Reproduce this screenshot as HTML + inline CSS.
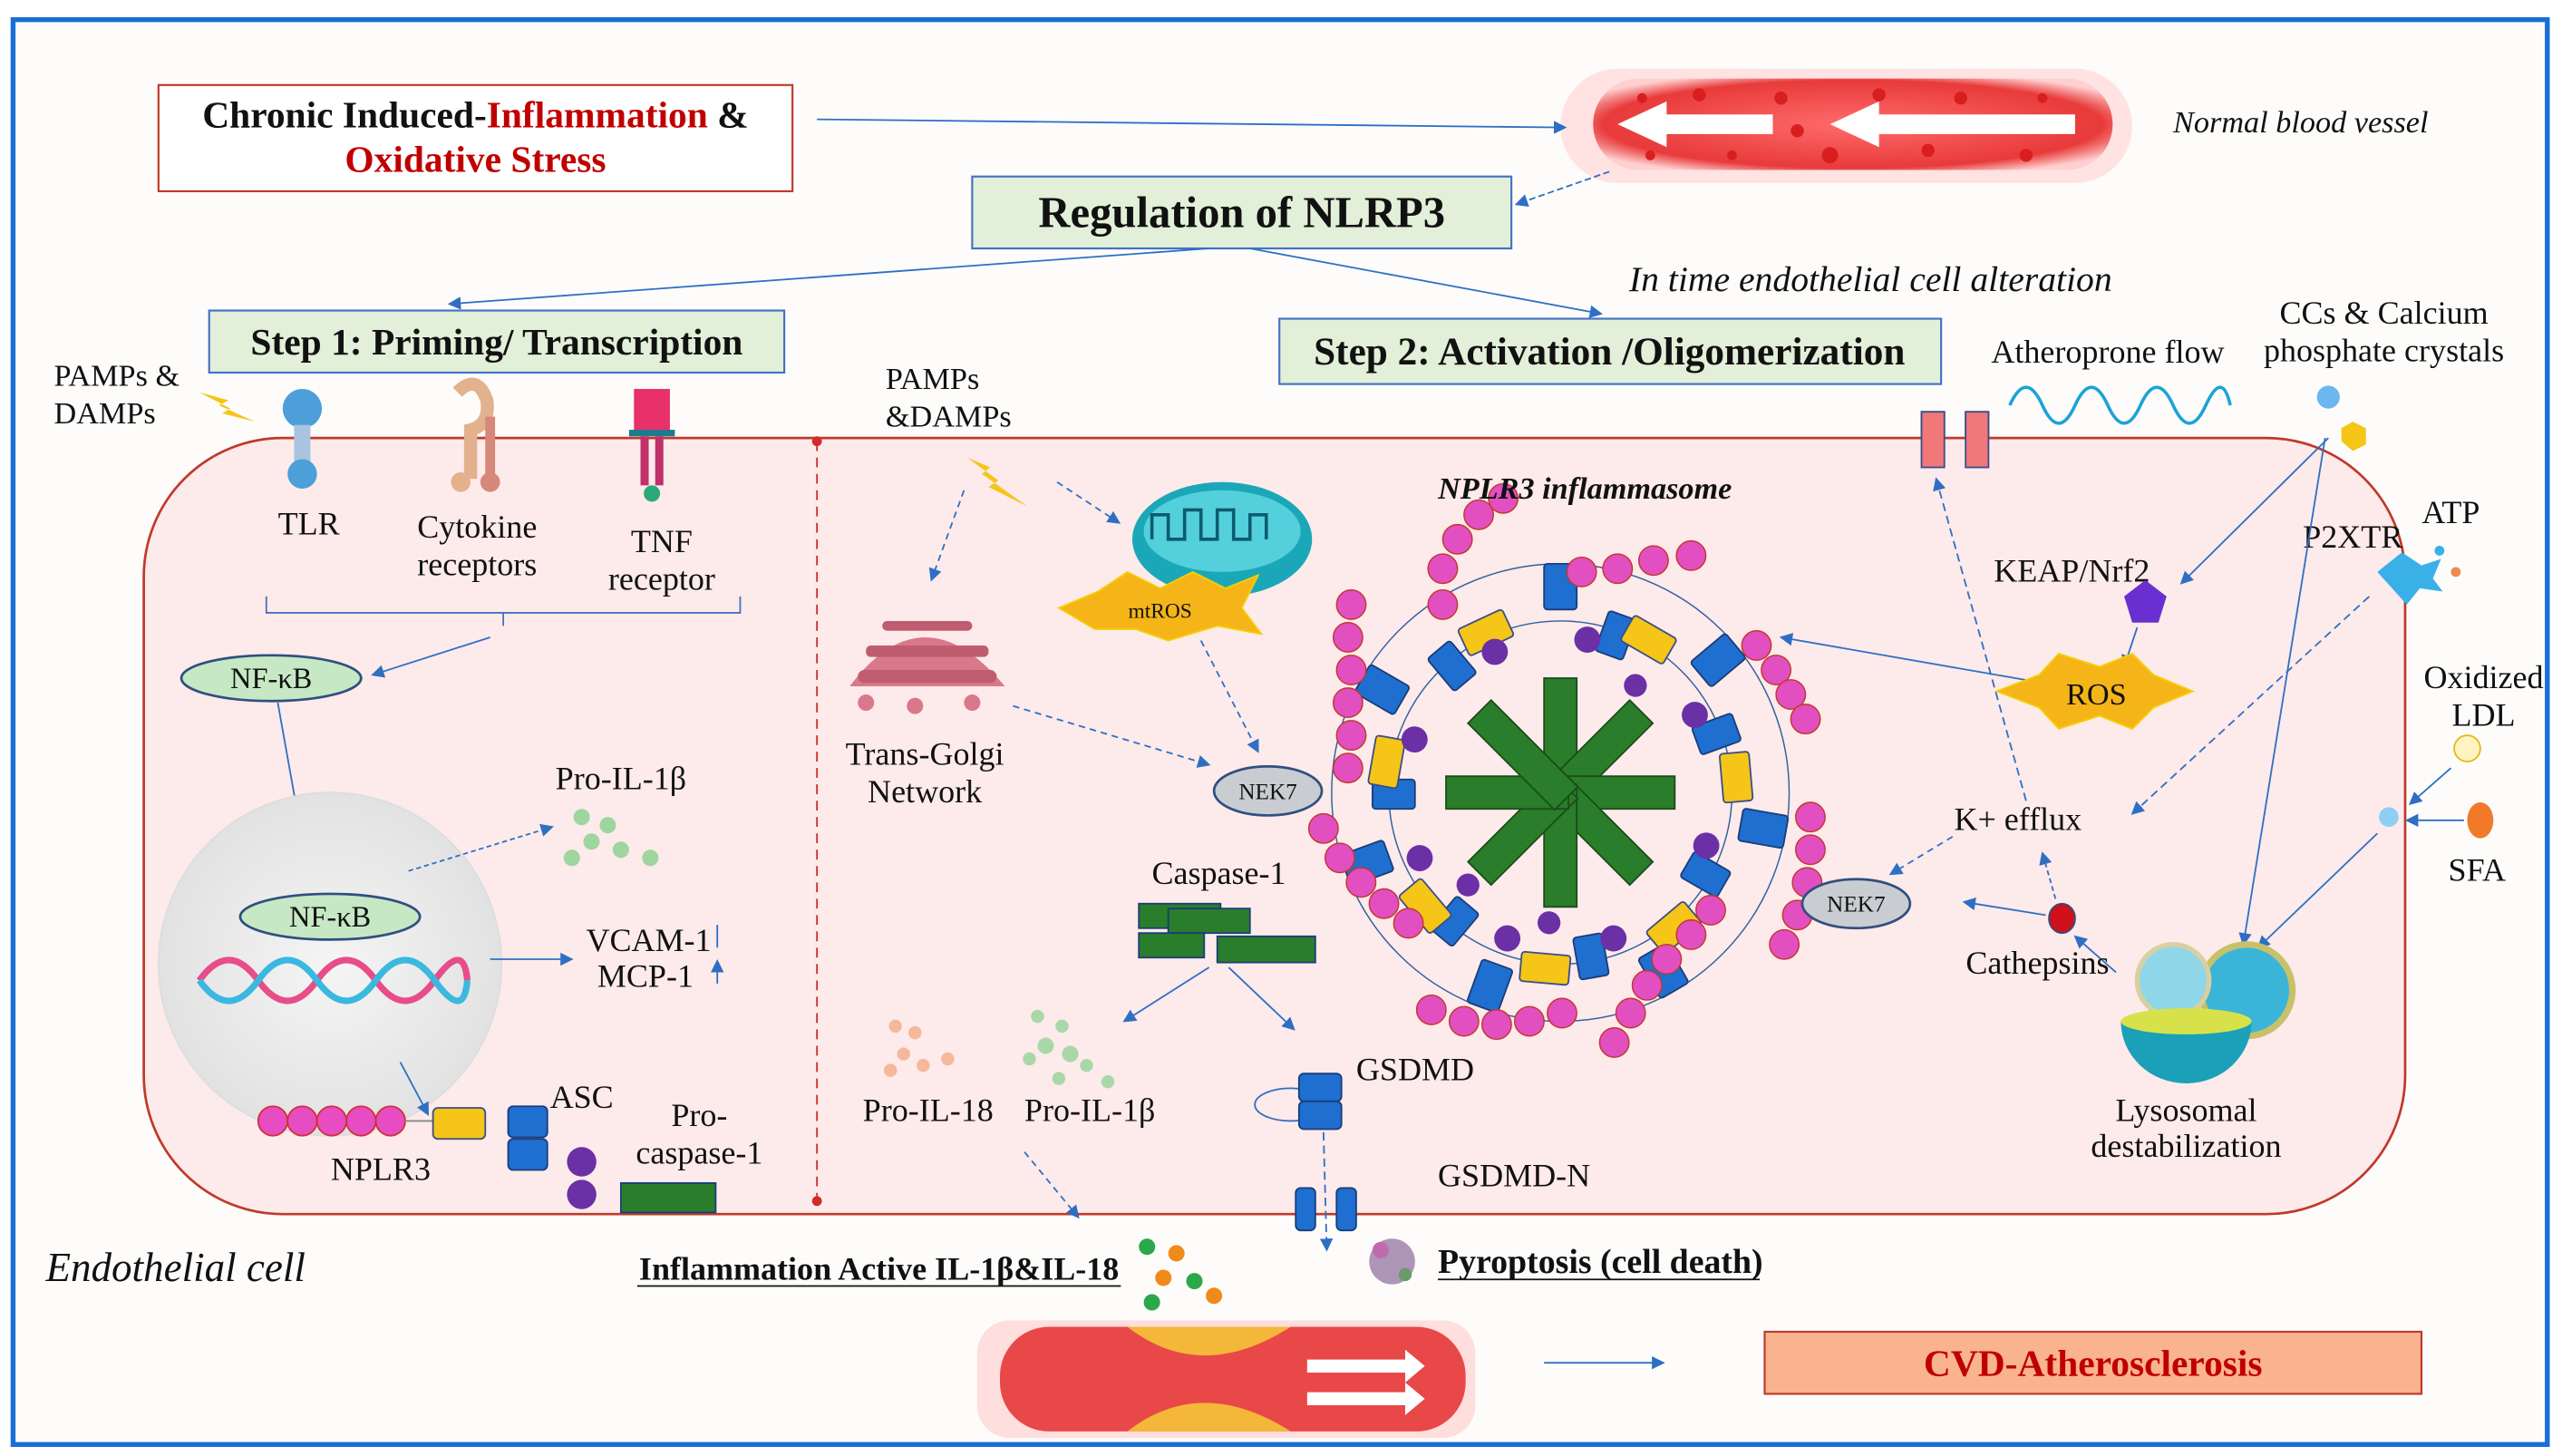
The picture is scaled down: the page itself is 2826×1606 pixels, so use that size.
<!DOCTYPE html>
<html><head><meta charset="utf-8"><style>
html,body{margin:0;padding:0;background:#fff}
svg{display:block}
text{font-family:"Liberation Serif",serif;fill:#111}
</style></head><body>
<svg width="2826" height="1606" viewBox="0 0 1568 891" xmlns="http://www.w3.org/2000/svg">
<defs>
<marker id="a" markerWidth="8" markerHeight="8" refX="7" refY="4" orient="auto" markerUnits="userSpaceOnUse"><path d="M0,0 L8,4 L0,8 z" fill="#2e6fc4"/></marker>
<radialGradient id="ves" cx="50%" cy="50%" r="60%"><stop offset="0" stop-color="#ff6b6b"/><stop offset="0.8" stop-color="#e83a3a"/><stop offset="1" stop-color="#ffd0d0"/></radialGradient>
<radialGradient id="nuc" cx="50%" cy="50%" r="50%"><stop offset="0" stop-color="#f5f5f5"/><stop offset="1" stop-color="#e2e2e2"/></radialGradient>
</defs>
<rect x="0" y="0" width="1568" height="891" fill="#fff"/>
<rect x="8" y="12" width="1551" height="872" fill="#fdfcfa" stroke="#1a6fd6" stroke-width="3"/>

<!-- top -->
<rect x="97" y="52" width="388" height="65" fill="#fff" stroke="#c0392b" stroke-width="1.2"/>
<text x="291" y="78" font-size="23" font-weight="bold" text-anchor="middle">Chronic Induced-<tspan style="fill:#c00000">Inflammation</tspan> &amp;</text>
<text x="291" y="105" font-size="23" font-weight="bold" text-anchor="middle" style="fill:#c00000">Oxidative Stress</text>

<rect x="955" y="42" width="350" height="70" rx="35" fill="#ffe3e3"/>
<rect x="975" y="48" width="318" height="56" rx="28" fill="url(#ves)"/>
<path d="M990,76 L1020,62 L1020,70 L1085,70 L1085,82 L1020,82 L1020,90 z M1120,76 L1150,62 L1150,70 L1270,70 L1270,82 L1150,82 L1150,90 z" fill="#fff"/>
<g fill="#d81e1e"><circle cx="1005" cy="60" r="3"/><circle cx="1040" cy="58" r="4"/><circle cx="1090" cy="60" r="4"/><circle cx="1150" cy="58" r="4"/><circle cx="1200" cy="60" r="4"/><circle cx="1250" cy="60" r="3"/><circle cx="1010" cy="95" r="3"/><circle cx="1060" cy="95" r="3"/><circle cx="1120" cy="95" r="5"/><circle cx="1180" cy="92" r="4"/><circle cx="1240" cy="95" r="4"/><circle cx="1100" cy="80" r="4"/></g>
<line x1="500" y1="73" x2="958" y2="78" stroke="#2e6fc4" marker-end="url(#a)"/>
<text x="1330" y="81" font-size="19" font-style="italic">Normal blood vessel</text>

<line x1="985" y1="105" x2="928" y2="125" stroke="#2e6fc4" stroke-dasharray="4,2" marker-end="url(#a)"/>
<rect x="595" y="108" width="330" height="44" fill="#e2efd9" stroke="#4472c4" stroke-width="1.2"/>
<text x="760" y="139" font-size="27" font-weight="bold" text-anchor="middle">Regulation of NLRP3</text>
<line x1="740" y1="152" x2="275" y2="186" stroke="#2e6fc4" marker-end="url(#a)"/>
<line x1="765" y1="152" x2="980" y2="192" stroke="#2e6fc4" marker-end="url(#a)"/>
<text x="997" y="178" font-size="22" font-style="italic">In time endothelial cell alteration</text>

<rect x="128" y="190" width="352" height="38" fill="#e2efd9" stroke="#4472c4" stroke-width="1.2"/>
<text x="304" y="217" font-size="23" font-weight="bold" text-anchor="middle">Step 1: Priming/ Transcription</text>
<rect x="783" y="195" width="405" height="40" fill="#e2efd9" stroke="#4472c4" stroke-width="1.2"/>
<text x="985" y="223" font-size="24" font-weight="bold" text-anchor="middle">Step 2: Activation /Oligomerization</text>

<text x="33" y="236" font-size="19">PAMPs &amp;</text>
<text x="33" y="259" font-size="19">DAMPs</text>
<text x="542" y="238" font-size="19">PAMPs</text>
<text x="542" y="261" font-size="19">&amp;DAMPs</text>
<text x="1290" y="222" font-size="20" text-anchor="middle">Atheroprone flow</text>
<text x="1459" y="198" font-size="20" text-anchor="middle">CCs &amp; Calcium</text>
<text x="1459" y="221" font-size="20" text-anchor="middle">phosphate crystals</text>
<path d="M1230,248 q10,-22 20,0 t20,0 t20,0 t20,0 t20,0 t20,0 t15,0" fill="none" stroke="#1ca3d6" stroke-width="2"/>
<rect x="1176" y="252" width="14" height="34" fill="#f07878" stroke="#3a4d8a"/><rect x="1203" y="252" width="14" height="34" fill="#f07878" stroke="#3a4d8a"/>
<circle cx="1425" cy="243" r="7" fill="#6bb7f0"/><polygon points="1440,258 1448,262 1448,272 1440,276 1433,270 1433,262" fill="#f5c518"/>

<!-- cell -->
<rect x="88" y="268" width="1384" height="475" rx="85" fill="#fdeaea" stroke="#c0392b" stroke-width="1.5"/>
<line x1="500" y1="270" x2="500" y2="735" stroke="#d42a2a" stroke-dasharray="6,4"/>
<circle cx="500" cy="270" r="3" fill="#d42a2a"/><circle cx="500" cy="735" r="3" fill="#d42a2a"/>
<rect x="1176" y="252" width="14" height="34" fill="#f07878" stroke="#3a4d8a"/><rect x="1203" y="252" width="14" height="34" fill="#f07878" stroke="#3a4d8a"/>

<path d="M122,240 l18,5 l-6,3 l22,10 l-20,-5 l5,-3 z" fill="#f5c518"/>
<path d="M592,280 l14,6 l-5,4 l28,20 l-24,-12 l6,-4 z" fill="#f5c518"/>
<g><circle cx="185" cy="250" r="12" fill="#4c9fd8"/><rect x="180" y="260" width="10" height="26" fill="#a9c4e0"/><circle cx="185" cy="290" r="9" fill="#4c9fd8"/></g>
<g><path d="M280,240 q12,-12 18,5 q2,15 -10,18 l0,30" fill="none" stroke="#e3b18e" stroke-width="8"/><circle cx="282" cy="295" r="6" fill="#e3b18e"/><circle cx="300" cy="295" r="6" fill="#d6887a"/><rect x="297" y="255" width="6" height="35" fill="#d6887a"/></g>
<g><rect x="388" y="238" width="22" height="28" fill="#e8306a"/><rect x="385" y="263" width="28" height="4" fill="#1d7c8c"/><rect x="392" y="267" width="5" height="30" fill="#c0306a"/><rect x="401" y="267" width="5" height="30" fill="#c0306a"/><circle cx="399" cy="302" r="5" fill="#2da87a"/></g>
<text x="189" y="327" font-size="20" text-anchor="middle">TLR</text>
<text x="292" y="329" font-size="20" text-anchor="middle">Cytokine</text>
<text x="292" y="352" font-size="20" text-anchor="middle">receptors</text>
<text x="405" y="338" font-size="20" text-anchor="middle">TNF</text>
<text x="405" y="361" font-size="20" text-anchor="middle">receptor</text>
<path d="M163,365 v10 h290 v-10 M308,375 v8" fill="none" stroke="#4472c4"/>
<line x1="300" y1="390" x2="228" y2="413" stroke="#2e6fc4" marker-end="url(#a)"/>
<ellipse cx="166" cy="415" rx="55" ry="14" fill="#c6e8c4" stroke="#2f4f7f" stroke-width="1.5"/>
<text x="166" y="421" font-size="18" text-anchor="middle">NF-κB</text>
<line x1="170" y1="430" x2="187" y2="525" stroke="#2e6fc4" marker-end="url(#a)"/>
<circle cx="202" cy="590" r="105" fill="url(#nuc)" stroke="#ddd"/>
<ellipse cx="202" cy="561" rx="55" ry="14" fill="#c6e8c4" stroke="#2f4f7f" stroke-width="1.5"/>
<text x="202" y="567" font-size="18" text-anchor="middle">NF-κB</text>
<path d="M122,600 q18,-25 36,0 t36,0 t36,0 t36,0 t20,0" fill="none" stroke="#e84c8a" stroke-width="4"/>
<path d="M122,600 q18,25 36,0 t36,0 t36,0 t36,0 t20,0" fill="none" stroke="#3ab8e0" stroke-width="4"/>
<line x1="250" y1="533" x2="338" y2="506" stroke="#2e6fc4" stroke-dasharray="3,2" marker-end="url(#a)"/>
<text x="380" y="483" font-size="20" text-anchor="middle">Pro-IL-1β</text>
<g fill="#9fd59f"><circle cx="356" cy="500" r="5"/><circle cx="372" cy="505" r="5"/><circle cx="362" cy="515" r="5"/><circle cx="380" cy="520" r="5"/><circle cx="350" cy="525" r="5"/><circle cx="398" cy="525" r="5"/></g>
<line x1="300" y1="587" x2="350" y2="587" stroke="#2e6fc4" marker-end="url(#a)"/>
<text x="397" y="582" font-size="20" text-anchor="middle">VCAM-1</text>
<text x="395" y="604" font-size="20" text-anchor="middle">MCP-1</text>
<path d="M439,580 v-14 M439,602 v-14" stroke="#2e6fc4" marker-end="url(#a)"/>
<line x1="245" y1="650" x2="262" y2="682" stroke="#2e6fc4" marker-end="url(#a)"/>
<g fill="#e84cc2" stroke="#c33"><circle cx="167" cy="686" r="9"/><circle cx="185" cy="686" r="9"/><circle cx="203" cy="686" r="9"/><circle cx="221" cy="686" r="9"/><circle cx="239" cy="686" r="9"/></g>
<line x1="248" y1="686" x2="265" y2="686" stroke="#888"/>
<rect x="265" y="678" width="32" height="19" rx="3" fill="#f5c518" stroke="#3a4d8a"/>
<rect x="311" y="677" width="24" height="19" rx="3" fill="#1e6fd0" stroke="#1a3d7a"/><rect x="311" y="697" width="24" height="19" rx="3" fill="#1e6fd0" stroke="#1a3d7a"/>
<circle cx="356" cy="711" r="9" fill="#6b2fa6"/><circle cx="356" cy="731" r="9" fill="#6b2fa6"/>
<rect x="380" y="724" width="58" height="18" fill="#2a7d2a" stroke="#1a3d7a"/>
<text x="356" y="678" font-size="20" text-anchor="middle">ASC</text>
<text x="428" y="689" font-size="20" text-anchor="middle">Pro-</text>
<text x="428" y="712" font-size="20" text-anchor="middle">caspase-1</text>
<text x="233" y="722" font-size="20" text-anchor="middle">NPLR3</text>

<!-- step2 internal -->
<line x1="590" y1="300" x2="570" y2="355" stroke="#2e6fc4" stroke-dasharray="4,3" marker-end="url(#a)"/>
<line x1="647" y1="295" x2="685" y2="320" stroke="#2e6fc4" stroke-dasharray="4,3" marker-end="url(#a)"/>
<ellipse cx="748" cy="330" rx="55" ry="35" fill="#1aa8b8"/><ellipse cx="748" cy="325" rx="48" ry="25" fill="#54d0dc"/>
<path d="M705,330 v-15 h10 v15 h10 v-18 h10 v18 h10 v-18 h10 v18 h10 v-15 h10 v15" fill="none" stroke="#0c5c6e" stroke-width="2"/>
<polygon points="648,372 672,362 690,350 710,360 730,350 750,360 770,352 760,372 772,388 745,383 715,392 695,385 670,385" fill="#f5b518" stroke="#f5d000"/>
<text x="710" y="378" font-size="13" text-anchor="middle">mtROS</text>
<g fill="#d9788a"><path d="M520,420 q45,-60 95,0 z" /><rect x="525" y="410" width="85" height="8" rx="4" fill="#c05c70"/><rect x="530" y="395" width="75" height="7" rx="3" fill="#c05c70"/><rect x="540" y="380" width="55" height="6" rx="3" fill="#c05c70"/><circle cx="530" cy="430" r="5"/><circle cx="560" cy="432" r="5"/><circle cx="595" cy="430" r="5"/></g>
<text x="566" y="468" font-size="20" text-anchor="middle">Trans-Golgi</text>
<text x="566" y="491" font-size="20" text-anchor="middle">Network</text>
<line x1="620" y1="432" x2="740" y2="468" stroke="#2e6fc4" stroke-dasharray="4,3" marker-end="url(#a)"/>
<line x1="735" y1="392" x2="770" y2="460" stroke="#2e6fc4" stroke-dasharray="4,3" marker-end="url(#a)"/>
<ellipse cx="776" cy="484" rx="33" ry="15" fill="#c9cdd2" stroke="#2f4f7f" stroke-width="1.5"/>
<text x="776" y="489" font-size="14" text-anchor="middle">NEK7</text>
<text x="746" y="541" font-size="20" text-anchor="middle">Caspase-1</text>
<rect x="697" y="553" width="50" height="15" fill="#2a7d2a" stroke="#1a3d7a"/><rect x="715" y="556" width="50" height="15" fill="#2a7d2a" stroke="#1a3d7a"/><rect x="697" y="571" width="40" height="15" fill="#2a7d2a" stroke="#1a3d7a"/><rect x="745" y="573" width="60" height="16" fill="#2a7d2a" stroke="#1a3d7a"/>
<line x1="740" y1="592" x2="688" y2="625" stroke="#2e6fc4" marker-end="url(#a)"/>
<line x1="752" y1="592" x2="792" y2="630" stroke="#2e6fc4" marker-end="url(#a)"/>
<g fill="#f5b89a"><circle cx="548" cy="628" r="4"/><circle cx="560" cy="632" r="4"/><circle cx="553" cy="645" r="4"/><circle cx="565" cy="652" r="4"/><circle cx="545" cy="655" r="4"/><circle cx="580" cy="648" r="4"/></g>
<g fill="#a8d8a8"><circle cx="635" cy="622" r="4"/><circle cx="650" cy="628" r="4"/><circle cx="640" cy="640" r="5"/><circle cx="655" cy="645" r="5"/><circle cx="630" cy="648" r="4"/><circle cx="665" cy="652" r="4"/><circle cx="648" cy="660" r="4"/><circle cx="678" cy="662" r="4"/></g>
<text x="568" y="686" font-size="20" text-anchor="middle">Pro-IL-18</text>
<text x="667" y="686" font-size="20" text-anchor="middle">Pro-IL-1β</text>
<ellipse cx="790" cy="676" rx="22" ry="10" fill="none" stroke="#2e6fc4"/>
<rect x="795" y="657" width="26" height="17" rx="3" fill="#1e6fd0" stroke="#1a3d7a"/><rect x="795" y="674" width="26" height="17" rx="3" fill="#1e6fd0" stroke="#1a3d7a"/>
<text x="830" y="661" font-size="20">GSDMD</text>
<text x="880" y="726" font-size="20">GSDMD-N</text>
<line x1="810" y1="693" x2="812" y2="765" stroke="#2e6fc4" stroke-dasharray="5,3" marker-end="url(#a)"/>
<rect x="793" y="727" width="12" height="26" rx="3" fill="#1e6fd0" stroke="#1a3d7a"/><rect x="818" y="727" width="12" height="26" rx="3" fill="#1e6fd0" stroke="#1a3d7a"/>
<line x1="627" y1="705" x2="660" y2="745" stroke="#2e6fc4" stroke-dasharray="4,3" marker-end="url(#a)"/>

<!-- inflammasome -->
<g stroke="#2f5fa0" stroke-width="0.8" fill="none"><circle cx="955" cy="485" r="105"/><circle cx="955" cy="485" r="140"/></g>
<g fill="#2a7d2a" stroke="#1a4d1a">
<rect x="945" y="415" width="20" height="75" transform="rotate(0 955 485)"/>
<rect x="945" y="415" width="20" height="75" transform="rotate(45 955 485)"/>
<rect x="945" y="415" width="20" height="75" transform="rotate(90 955 485)"/>
<rect x="945" y="415" width="20" height="75" transform="rotate(135 955 485)"/>
<rect x="945" y="415" width="20" height="75" transform="rotate(180 955 485)"/>
<rect x="945" y="415" width="20" height="75" transform="rotate(225 955 485)"/>
<rect x="945" y="415" width="20" height="75" transform="rotate(270 955 485)"/>
<rect x="945" y="415" width="20" height="75" transform="rotate(315 955 485)"/>
</g>
<g fill="#1e6fd0" stroke="#1a3d7a">
<rect x="945" y="370" width="18" height="26" rx="2" transform="rotate(20 955 485)"/>
<rect x="945" y="370" width="18" height="26" rx="2" transform="rotate(70 955 485)"/>
<rect x="945" y="370" width="18" height="26" rx="2" transform="rotate(120 955 485)"/>
<rect x="945" y="370" width="18" height="26" rx="2" transform="rotate(170 955 485)"/>
<rect x="945" y="370" width="18" height="26" rx="2" transform="rotate(220 955 485)"/>
<rect x="945" y="370" width="18" height="26" rx="2" transform="rotate(270 955 485)"/>
<rect x="945" y="370" width="18" height="26" rx="2" transform="rotate(320 955 485)"/>
<rect x="945" y="345" width="20" height="28" rx="2" transform="rotate(0 955 485)"/>
<rect x="945" y="345" width="20" height="28" rx="2" transform="rotate(50 955 485)"/>
<rect x="945" y="345" width="20" height="28" rx="2" transform="rotate(100 955 485)"/>
<rect x="945" y="345" width="20" height="28" rx="2" transform="rotate(150 955 485)"/>
<rect x="945" y="345" width="20" height="28" rx="2" transform="rotate(200 955 485)"/>
<rect x="945" y="345" width="20" height="28" rx="2" transform="rotate(250 955 485)"/>
<rect x="945" y="345" width="20" height="28" rx="2" transform="rotate(300 955 485)"/>
</g>
<g fill="#f5c518" stroke="#3a4d8a">
<rect x="940" y="368" width="30" height="18" rx="2" transform="rotate(-25 955 485)"/>
<rect x="940" y="368" width="30" height="18" rx="2" transform="rotate(30 955 485)"/>
<rect x="940" y="368" width="30" height="18" rx="2" transform="rotate(85 955 485)"/>
<rect x="940" y="368" width="30" height="18" rx="2" transform="rotate(140 955 485)"/>
<rect x="940" y="368" width="30" height="18" rx="2" transform="rotate(185 955 485)"/>
<rect x="940" y="368" width="30" height="18" rx="2" transform="rotate(230 955 485)"/>
<rect x="940" y="368" width="30" height="18" rx="2" transform="rotate(-80 955 485)"/>
</g>
<g fill="#6b2fa6">
<circle cx="955" cy="390" r="8" transform="rotate(10 955 485)"/><circle cx="955" cy="390" r="8" transform="rotate(60 955 485)"/><circle cx="955" cy="390" r="8" transform="rotate(110 955 485)"/><circle cx="955" cy="390" r="8" transform="rotate(160 955 485)"/><circle cx="955" cy="390" r="8" transform="rotate(200 955 485)"/><circle cx="955" cy="390" r="8" transform="rotate(245 955 485)"/><circle cx="955" cy="390" r="8" transform="rotate(290 955 485)"/><circle cx="955" cy="390" r="8" transform="rotate(335 955 485)"/>
<circle cx="955" cy="405" r="7" transform="rotate(35 955 485)"/><circle cx="955" cy="405" r="7" transform="rotate(185 955 485)"/><circle cx="955" cy="405" r="7" transform="rotate(225 955 485)"/>
</g>
<g fill="#e24fc0" stroke="#c0392b" stroke-width="0.8">
<circle cx="968" cy="350" r="9"/><circle cx="990" cy="348" r="9"/><circle cx="1012" cy="343" r="9"/><circle cx="1035" cy="340" r="9"/>
<circle cx="883" cy="370" r="9"/><circle cx="883" cy="348" r="9"/><circle cx="892" cy="330" r="9"/><circle cx="905" cy="315" r="9"/><circle cx="920" cy="305" r="9"/>
<circle cx="827" cy="370" r="9"/><circle cx="825" cy="390" r="9"/><circle cx="827" cy="410" r="9"/><circle cx="825" cy="430" r="9"/><circle cx="827" cy="450" r="9"/><circle cx="825" cy="470" r="9"/>
<circle cx="810" cy="507" r="9"/><circle cx="820" cy="525" r="9"/><circle cx="833" cy="540" r="9"/><circle cx="847" cy="553" r="9"/><circle cx="862" cy="565" r="9"/>
<circle cx="876" cy="618" r="9"/><circle cx="896" cy="625" r="9"/><circle cx="916" cy="627" r="9"/><circle cx="936" cy="625" r="9"/><circle cx="956" cy="620" r="9"/>
<circle cx="988" cy="638" r="9"/><circle cx="998" cy="620" r="9"/><circle cx="1008" cy="603" r="9"/><circle cx="1020" cy="587" r="9"/><circle cx="1035" cy="572" r="9"/><circle cx="1047" cy="557" r="9"/>
<circle cx="1075" cy="395" r="9"/><circle cx="1087" cy="410" r="9"/><circle cx="1096" cy="425" r="9"/><circle cx="1105" cy="440" r="9"/><circle cx="1108" cy="500" r="9"/><circle cx="1108" cy="520" r="9"/><circle cx="1106" cy="540" r="9"/><circle cx="1100" cy="560" r="9"/><circle cx="1092" cy="578" r="9"/>
</g>
<text x="970" y="305" font-size="19" font-style="italic" font-weight="bold" text-anchor="middle">NPLR3 inflammasome</text>

<!-- right side -->
<line x1="1245" y1="417" x2="1090" y2="390" stroke="#2e6fc4" marker-end="url(#a)"/>
<text x="1268" y="356" font-size="20" text-anchor="middle">KEAP/Nrf2</text>
<polygon points="1313,355 1326,365 1321,381 1305,381 1300,365" fill="#6a2fd0"/>
<line x1="1308" y1="384" x2="1300" y2="408" stroke="#2e6fc4" marker-end="url(#a)"/>
<line x1="1425" y1="268" x2="1335" y2="357" stroke="#2e6fc4" marker-end="url(#a)"/>
<polygon points="1222,423 1248,413 1260,400 1285,408 1305,400 1318,413 1342,423 1318,433 1305,446 1285,438 1260,446 1248,433" fill="#f5b518" stroke="#f5d000"/>
<text x="1283" y="431" font-size="19" text-anchor="middle">ROS</text>
<text x="1440" y="335" font-size="20" text-anchor="middle">P2XTR</text>
<text x="1500" y="320" font-size="20" text-anchor="middle">ATP</text>
<path d="M1455,350 l15,-12 l12,8 l12,-4 l-5,12 l6,8 l-14,-2 l-8,10 z" fill="#3ab0e8"/>
<circle cx="1493" cy="337" r="3" fill="#3ab0e8"/><circle cx="1503" cy="350" r="3" fill="#f08a4a"/>
<text x="1520" y="421" font-size="20" text-anchor="middle">Oxidized</text>
<text x="1520" y="444" font-size="20" text-anchor="middle">LDL</text>
<circle cx="1510" cy="458" r="8" fill="#fff3c0" stroke="#e5b818"/>
<line x1="1500" y1="470" x2="1475" y2="492" stroke="#2e6fc4" marker-end="url(#a)"/>
<circle cx="1462" cy="500" r="6" fill="#8ecff5"/>
<ellipse cx="1518" cy="502" rx="8" ry="11" fill="#f07a2a"/>
<line x1="1508" y1="502" x2="1473" y2="502" stroke="#2e6fc4" marker-end="url(#a)"/>
<text x="1516" y="539" font-size="20" text-anchor="middle">SFA</text>
<line x1="1423" y1="268" x2="1373" y2="578" stroke="#2e6fc4" marker-end="url(#a)"/>
<line x1="1455" y1="510" x2="1382" y2="580" stroke="#2e6fc4" marker-end="url(#a)"/>
<line x1="1450" y1="365" x2="1305" y2="498" stroke="#2e6fc4" stroke-dasharray="5,3" marker-end="url(#a)"/>
<text x="1235" y="508" font-size="20" text-anchor="middle">K+ efflux</text>
<line x1="1240" y1="490" x2="1185" y2="293" stroke="#2e6fc4" stroke-dasharray="5,3" marker-end="url(#a)"/>
<line x1="1195" y1="512" x2="1157" y2="535" stroke="#2e6fc4" stroke-dasharray="4,3" marker-end="url(#a)"/>
<ellipse cx="1136" cy="553" rx="33" ry="15" fill="#c9cdd2" stroke="#2f4f7f" stroke-width="1.5"/>
<text x="1136" y="558" font-size="14" text-anchor="middle">NEK7</text>
<ellipse cx="1262" cy="562" rx="8" ry="9" fill="#d0101a" stroke="#2f4f7f"/>
<line x1="1252" y1="560" x2="1202" y2="552" stroke="#2e6fc4" marker-end="url(#a)"/>
<line x1="1258" y1="550" x2="1250" y2="522" stroke="#2e6fc4" stroke-dasharray="3,2" marker-end="url(#a)"/>
<line x1="1295" y1="595" x2="1270" y2="573" stroke="#2e6fc4" marker-end="url(#a)"/>
<text x="1247" y="596" font-size="20" text-anchor="middle">Cathepsins</text>
<circle cx="1375" cy="606" r="28" fill="#3ab5d8" stroke="#c9c06a" stroke-width="4"/>
<circle cx="1330" cy="600" r="22" fill="#8fd7e8" stroke="#d8d0a0" stroke-width="3"/>
<path d="M1298,625 a40,38 0 0 0 80,0 z" fill="#1aa0b8"/><ellipse cx="1338" cy="625" rx="40" ry="8" fill="#d7e24a"/>
<text x="1338" y="686" font-size="20" text-anchor="middle">Lysosomal</text>
<text x="1338" y="708" font-size="20" text-anchor="middle">destabilization</text>

<!-- bottom -->
<text x="28" y="784" font-size="25" font-style="italic">Endothelial cell</text>
<text x="538" y="783" font-size="20" font-weight="bold" text-anchor="middle">Inflammation Active IL-1β&amp;IL-18</text>
<line x1="390" y1="787" x2="686" y2="787" stroke="#111"/>
<g><circle cx="702" cy="763" r="5" fill="#2aa84a"/><circle cx="720" cy="767" r="5" fill="#f08a1a"/><circle cx="712" cy="782" r="5" fill="#f08a1a"/><circle cx="731" cy="784" r="5" fill="#2aa84a"/><circle cx="705" cy="797" r="5" fill="#2aa84a"/><circle cx="743" cy="793" r="5" fill="#f08a1a"/></g>
<circle cx="852" cy="772" r="14" fill="#8a6a9a" opacity="0.7"/><circle cx="845" cy="765" r="5" fill="#c06ab0"/><circle cx="860" cy="780" r="4" fill="#6a9a6a"/>
<text x="880" y="779" font-size="21" font-weight="bold">Pyroptosis (cell death)</text>
<line x1="880" y1="783" x2="1077" y2="783" stroke="#111"/>
<rect x="598" y="808" width="305" height="72" rx="20" fill="#ffdede"/>
<rect x="612" y="812" width="285" height="64" rx="30" fill="#e84848"/>
<path d="M690,812 q45,35 100,0 z M690,876 q45,-35 100,0 z" fill="#f5b73a"/>
<path d="M800,832 h60 v-6 l12,10 l-12,10 v-6 h-60 z M800,852 h60 v-6 l12,10 l-12,10 v-6 h-60 z" fill="#fff"/>
<line x1="945" y1="834" x2="1018" y2="834" stroke="#2e6fc4" marker-end="url(#a)"/>
<rect x="1080" y="815" width="402" height="38" fill="#f9b38e" stroke="#c0392b" stroke-width="1.2"/>
<text x="1281" y="842" font-size="23" font-weight="bold" text-anchor="middle" style="fill:#c00000">CVD-Atherosclerosis</text>
</svg>
</body></html>
